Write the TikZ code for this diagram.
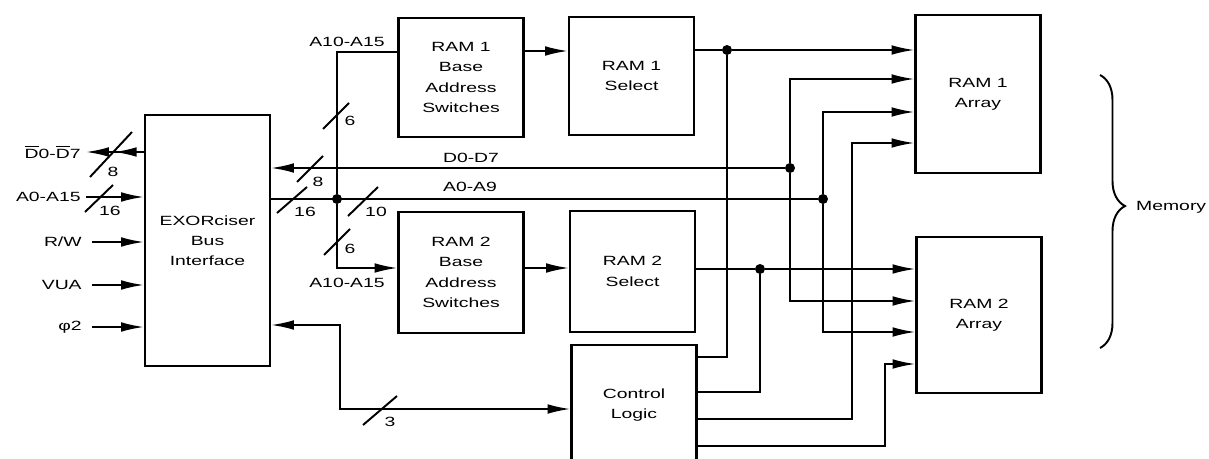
\documentclass[tikz,border=0pt]{standalone}
\usepackage{fontspec}
\setmainfont{Liberation Sans}[FakeStretch=1.45]
\usetikzlibrary{arrows.meta, decorations.pathreplacing, decorations.markings}

\tikzset{
  >={Latex[length=13pt, width=5.5pt]},
  block/.style={draw, line width=1.2pt, minimum width=2.5cm, align=center, inner sep=0pt},
  wire/.style={line width=1.1pt},
  dot/.style={circle, fill, inner sep=0pt, minimum size=0.2cm},
  sig/.style={anchor=east, inner sep=0.1cm},
  buswidth/.style={inner sep=0pt},
}

\begin{document}
\begin{tikzpicture}[x=0.02cm, y=-0.02cm, every node/.style={font=\fontsize{7.6}{11.5}\selectfont}]
		\path[fill=white] (0,0) rectangle (1209,459);
		\useasboundingbox (0,0) rectangle (1209,459);
		% Blocks
		\node[block, minimum height=5.02cm] (Bus interface) at (207.5,240.5) {EXORciser\\Bus\\Interface};
		\node[block, minimum height=2.38cm] (RAM1 base) at (461,77.5) {RAM 1\\Base\\Address\\Switches};
		\node[block, minimum height=2.36cm] (RAM1 select) at (631.5,76) {RAM 1\\Select};
		\node[block, minimum height=2.42cm] (RAM2 base) at (461,272.5) {RAM 2\\Base\\Address\\Switches};
		\node[block, minimum height=2.42cm] (RAM2 select) at (632.5,271.5) {RAM 2\\Select};
		\node[block, minimum height=2.4cm] (Control logic) at (634,405) {Control\\Logic};
		\node[block, minimum height=3.16cm] (RAM1 array) at (978,94) {RAM 1\\Array};
		\node[block, minimum height=3.12cm] (RAM2 array) at (979,315) {RAM 2\\Array};
		% Inputs
		\node[sig] (in d) at (86,152) {$\overline{\hbox{D}}$0-$\overline{\hbox{D}}$7};
		\node[sig] (in a) at (86,197) {A0-A15};
		\node[sig] (in rw) at (87,242) {R/W};
		\node[sig] (in vua) at (87,285) {VUA};
		\node[sig] (in phi) at (87,327) {φ2};
		% Junctions
		\node[dot] (A split) at (337,199) {};
		\node[dot] (RAM1 sel) at (727,50) {};
		\node[dot] (RAM2 sel) at (760,269) {};
		\node[dot] (D bus) at (790,168) {};
		\node[dot] (A bus) at (823,199) {};
		% Labels
		\node (A upper) at (347,42) {A10-A15};
		\node (A lower) at (347,283) {A10-A15};
		\node (D label) at (471,158) {D0-D7};
		\node (A label) at (470,187) {A0-A9};
		\node[anchor=west] (memory) at (1130,207) {Memory};
		% Arrows
		\draw[wire, ->, postaction={decorate}, decoration={markings, mark=at position 0.52 with {\arrow{>}}}] (Bus interface.west |- in d) -- (in d);
		\draw[wire, ->] (in a) -- (Bus interface.west |- in a);
		\draw[wire, ->, shorten <=0.1cm] (in rw) -- (Bus interface.west |- in rw);
		\draw[wire, ->, shorten <=0.1cm] (in vua) -- (Bus interface.west |- in vua);
		\draw[wire, ->, shorten <=0.1cm] (in phi) -- (Bus interface.west |- in phi);
		\draw[wire, ->] (D bus) -- (Bus interface.east |- D bus);
		\draw[wire] (Bus interface.east |- A bus) -- (A bus);
		\draw[wire] (A split) |- (RAM1 base.west |- 0,52);
		\draw[wire, ->] (A split) |- (RAM2 base.west |- 0,268);
		\draw[wire, ->] (RAM1 base.east |- 0,51) -- (RAM1 select.west |- 0,51);
		\draw[wire, ->] (RAM2 base.east |- 0,268) -- (RAM2 select.west |- 0,268);
		\draw[wire] (RAM1 select.east |- RAM1 sel) -- (RAM1 sel);
		\draw[wire, ->] (RAM1 sel) -- (RAM1 array.west |- RAM1 sel);
		\draw[wire] (RAM1 sel) |- (Control logic.east |- 0,357);
		\draw[wire] (RAM2 select.east |- RAM2 sel) -- (RAM2 sel);
		\draw[wire, ->] (RAM2 sel) -- (RAM2 array.west |- RAM2 sel);
		\draw[wire] (RAM2 sel) |- (Control logic.east |- 0,392);
		\draw[wire, ->] (D bus) |- (RAM1 array.west |- 0,79);
		\draw[wire, ->] (D bus) |- (RAM2 array.west |- 0,301);
		\draw[wire, ->] (A bus) |- (RAM1 array.west |- 0,112);
		\draw[wire, ->] (A bus) |- (RAM2 array.west |- 0,332);
		\draw[wire, ->] (Control logic.east |- 0,419) -| (852,143) -- (RAM1 array.west |- 0,143);
		\draw[wire, ->] (Control logic.east |- 0,446) -| (885,364) -- (RAM2 array.west |- 0,364);
		\draw[wire, <->] (Bus interface.east |- 0,325) -| (340,409) -- (Control logic.west |- 0,409);
		% Bus widths
		\draw[wire] (90,177) -- (132,132); \node[buswidth] (w in d) at (113,172) {8};
		\draw[wire] (85,212) -- (113,185); \node[buswidth] (w in a) at (110,211) {16};
		\draw[wire] (297,182) -- (323,156); \node[buswidth] (w d) at (318,182) {8};
		\draw[wire] (277,213) -- (307,187); \node[buswidth] (w a) at (305,212) {16};
		\draw[wire] (348,216) -- (378,187); \node[buswidth] (w a low) at (376,212) {10};
		\draw[wire] (323,129) -- (349,103); \node[buswidth] (w ram1) at (350,121) {6};
		\draw[wire] (324,255) -- (350,229); \node[buswidth] (w ram2) at (350,249) {6};
		\draw[wire] (363,425) -- (397,396); \node[buswidth] (w ctrl) at (390,422) {3};
		% Memory brace
		\draw[wire, decorate, decoration={brace, amplitude=0.5cm, aspect=0.48}] (1100,75) -- (1100,348);
	\end{tikzpicture}
\end{document}
